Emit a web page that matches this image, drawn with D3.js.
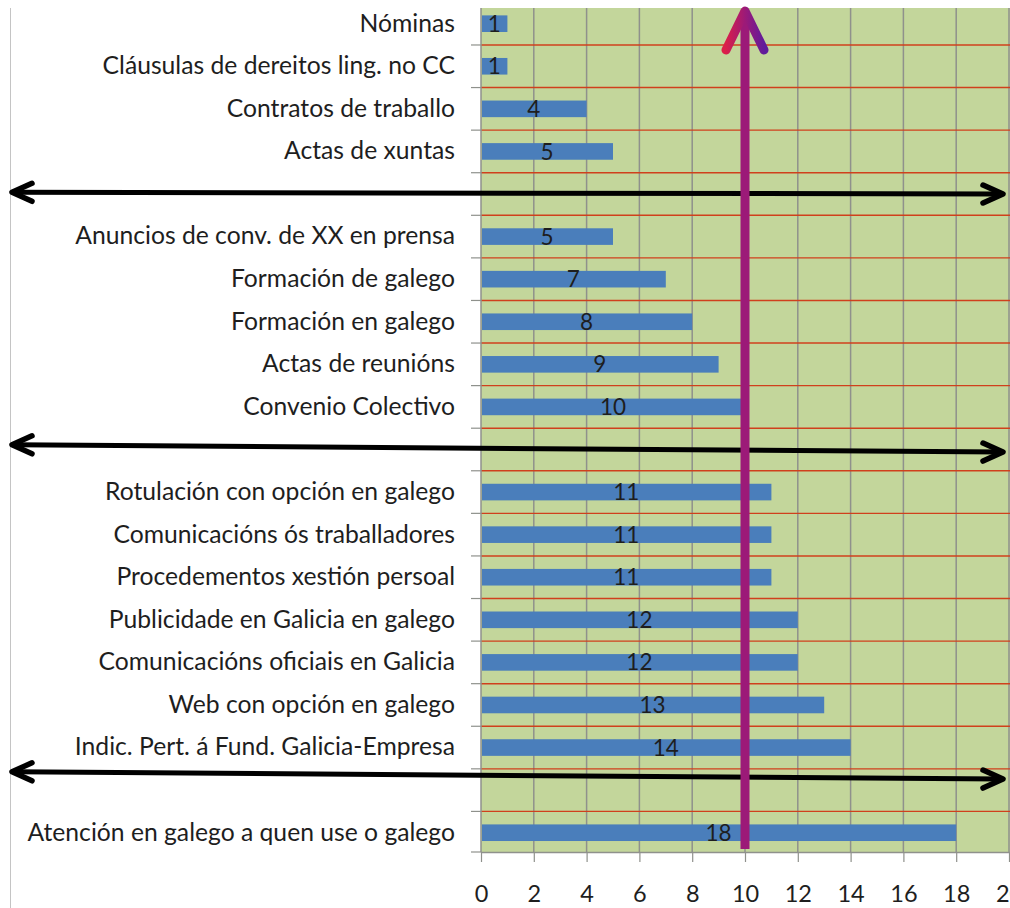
<!DOCTYPE html>
<html>
<head>
<meta charset="utf-8">
<script src="https://cdn.jsdelivr.net/npm/d3@7"></script>
<style>
  html, body { margin: 0; padding: 0; background: #ffffff; }
  svg { display: block; }
  text { font-family: Lato, "Open Sans", sans-serif; fill: #1e1e1e; }
</style>
</head>
<body>
<svg id="chart" width="1010" height="908"></svg>
<script>
// ---- data ----
const categories = [
  "Nóminas",
  "Cláusulas de dereitos ling. no CC",
  "Contratos de traballo",
  "Actas de xuntas",
  "",
  "Anuncios de conv. de XX en prensa",
  "Formación de galego",
  "Formación en galego",
  "Actas de reunións",
  "Convenio Colectivo",
  "",
  "Rotulación con opción en galego",
  "Comunicacións ós traballadores",
  "Procedementos xestión persoal",
  "Publicidade en Galicia en galego",
  "Comunicacións oficiais en Galicia",
  "Web con opción en galego",
  "Indic. Pert. á Fund. Galicia-Empresa",
  "",
  "Atención en galego a quen use o galego"
];
const values = [1, 1, 4, 5, null, 5, 7, 8, 9, 10, null, 11, 11, 11, 12, 12, 13, 14, null, 18];
const xTicks = [0, 2, 4, 6, 8, 10, 12, 14, 16, 18, 20];
// separator arrows: row position (in category rows) at left and right end
const separators = [
  { left: 4.46, right: 4.5 },
  { left: 10.39, right: 10.56 },
  { left: 18.07, right: 18.24 }
];
// threshold arrow (vertical) at this value
const threshold = 10;

// ---- layout ----
const svg = d3.select("#chart");
const W = 1010, H = 908;
const plotTop = 8, plotBottom = 852;
const bandTop = 2.4, bandBottom = 854;

const x = d3.scaleLinear().domain([0, 20]).range([481, 1009]);
const idx = d3.range(categories.length);
const y = d3.scaleBand().domain(idx).range([bandTop, bandBottom]).padding(0);
const yRow = d3.scaleLinear().domain([0, categories.length]).range([bandTop, bandBottom]);

// left border line
svg.append("line")
  .attr("x1", 10.5).attr("x2", 10.5).attr("y1", plotTop).attr("y2", H)
  .attr("stroke", "#c4c4c4").attr("stroke-width", 1);

// plot background
svg.append("rect")
  .attr("x", x(0)).attr("y", plotTop)
  .attr("width", W - x(0)).attr("height", plotBottom - plotTop)
  .attr("fill", "#c3d69b");

// vertical gridlines
svg.append("g").selectAll("line")
  .data(xTicks.filter(d => d > 0))
  .join("line")
  .attr("x1", d => x(d)).attr("x2", d => x(d))
  .attr("y1", plotTop).attr("y2", plotBottom)
  .attr("stroke", "#8f918c").attr("stroke-width", 1.5);

// horizontal red lines at row boundaries
const boundaries = d3.range(1, categories.length);
svg.append("g").selectAll("line")
  .data(boundaries)
  .join("line")
  .attr("x1", x(0)).attr("x2", W)
  .attr("y1", d => yRow(d)).attr("y2", d => yRow(d))
  .attr("stroke", "#d0401c").attr("stroke-width", 1.4);

// left axis line + boundary ticks
svg.append("line")
  .attr("x1", x(0)).attr("x2", x(0)).attr("y1", plotTop).attr("y2", plotBottom)
  .attr("stroke", "#8f918c").attr("stroke-width", 1.5);
svg.append("g").selectAll("line")
  .data(boundaries.concat([categories.length]))
  .join("line")
  .attr("x1", x(0) - 10).attr("x2", x(0))
  .attr("y1", d => Math.min(yRow(d), plotBottom)).attr("y2", d => Math.min(yRow(d), plotBottom))
  .attr("stroke", "#8f918c").attr("stroke-width", 1.2);

// bars
const barH = y.bandwidth() * 0.39;
svg.append("g").selectAll("rect")
  .data(idx.filter(i => values[i] != null))
  .join("rect")
  .attr("x", x(0) + 1)
  .attr("y", i => y(i) + (y.bandwidth() - barH) / 2)
  .attr("width", i => x(values[i]) - x(0) - 1)
  .attr("height", barH)
  .attr("fill", "#4a7ebb");

// value labels
svg.append("g").selectAll("text")
  .data(idx.filter(i => values[i] != null))
  .join("text")
  .attr("x", i => (x(0) + x(values[i])) / 2)
  .attr("y", i => y(i) + y.bandwidth() / 2)
  .attr("dy", "0.36em")
  .attr("text-anchor", "middle")
  .attr("font-size", 22.5)
  .attr("fill", "#141414")
  .text(i => values[i]);

// category labels (left axis)
const yAxis = d3.axisLeft(y).tickSize(0).tickPadding(26).tickFormat(i => categories[i]);
const gy = svg.append("g").attr("transform", `translate(${x(0)},0)`).call(yAxis);
gy.select(".domain").remove();
gy.selectAll("text").attr("font-size", 24.7).attr("fill", "#1e1e1e")
  .style("font-family", "Lato, 'Open Sans', sans-serif");

// bottom axis
const xAxis = d3.axisBottom(x).tickValues(xTicks).tickSize(10).tickPadding(23).tickFormat(d3.format("d"));
const gx = svg.append("g").attr("transform", `translate(0,${plotBottom})`).call(xAxis);
gx.select(".domain").attr("stroke", "#8f918c").attr("stroke-width", 1.5).attr("d", `M${x(0)},0.5H${W}`);
gx.selectAll(".tick line").attr("stroke", "#8f918c").attr("stroke-width", 1.2);
gx.selectAll("text").attr("font-size", 23.5).attr("fill", "#1e1e1e")
  .style("font-family", "Lato, 'Open Sans', sans-serif");

// separator double arrows
const sepG = svg.append("g");
const xL = 12, xR = 1003;
separators.forEach(s => {
  const yl = yRow(s.left), yr = yRow(s.right);
  sepG.append("line")
    .attr("x1", xL + 2).attr("y1", yl).attr("x2", xR - 2).attr("y2", yr)
    .attr("stroke", "#000").attr("stroke-width", 5);
  sepG.append("path")
    .attr("d", `M${xL + 20},${yl - 9}L${xL},${yl}L${xL + 20},${yl + 9}`)
    .attr("fill", "none").attr("stroke", "#000").attr("stroke-width", 5.5)
    .attr("stroke-linecap", "round").attr("stroke-linejoin", "round");
  sepG.append("path")
    .attr("d", `M${xR - 20},${yr - 9}L${xR},${yr}L${xR - 20},${yr + 9}`)
    .attr("fill", "none").attr("stroke", "#000").attr("stroke-width", 5.5)
    .attr("stroke-linecap", "round").attr("stroke-linejoin", "round");
});

// threshold arrow (vertical, gradient)
const xt = x(threshold);
const defs = svg.append("defs");
const grad = defs.append("linearGradient").attr("id", "purp")
  .attr("gradientUnits", "userSpaceOnUse")
  .attr("x1", xt - 20).attr("x2", xt + 20).attr("y1", 0).attr("y2", 0);
grad.append("stop").attr("offset", "0%").attr("stop-color", "#dc1f48");
grad.append("stop").attr("offset", "50%").attr("stop-color", "#9c1a78");
grad.append("stop").attr("offset", "100%").attr("stop-color", "#5e1c9c");

svg.append("line")
  .attr("x1", xt).attr("x2", xt).attr("y1", 849).attr("y2", plotTop + 6)
  .attr("stroke", "#9c1a78").attr("stroke-width", 9);
svg.append("path")
  .attr("d", `M${xt - 19},${plotTop + 42}L${xt},${plotTop + 3}L${xt + 19},${plotTop + 42}`)
  .attr("fill", "none").attr("stroke", "url(#purp)").attr("stroke-width", 9)
  .attr("stroke-linecap", "round").attr("stroke-linejoin", "round");
</script>
</body>
</html>
